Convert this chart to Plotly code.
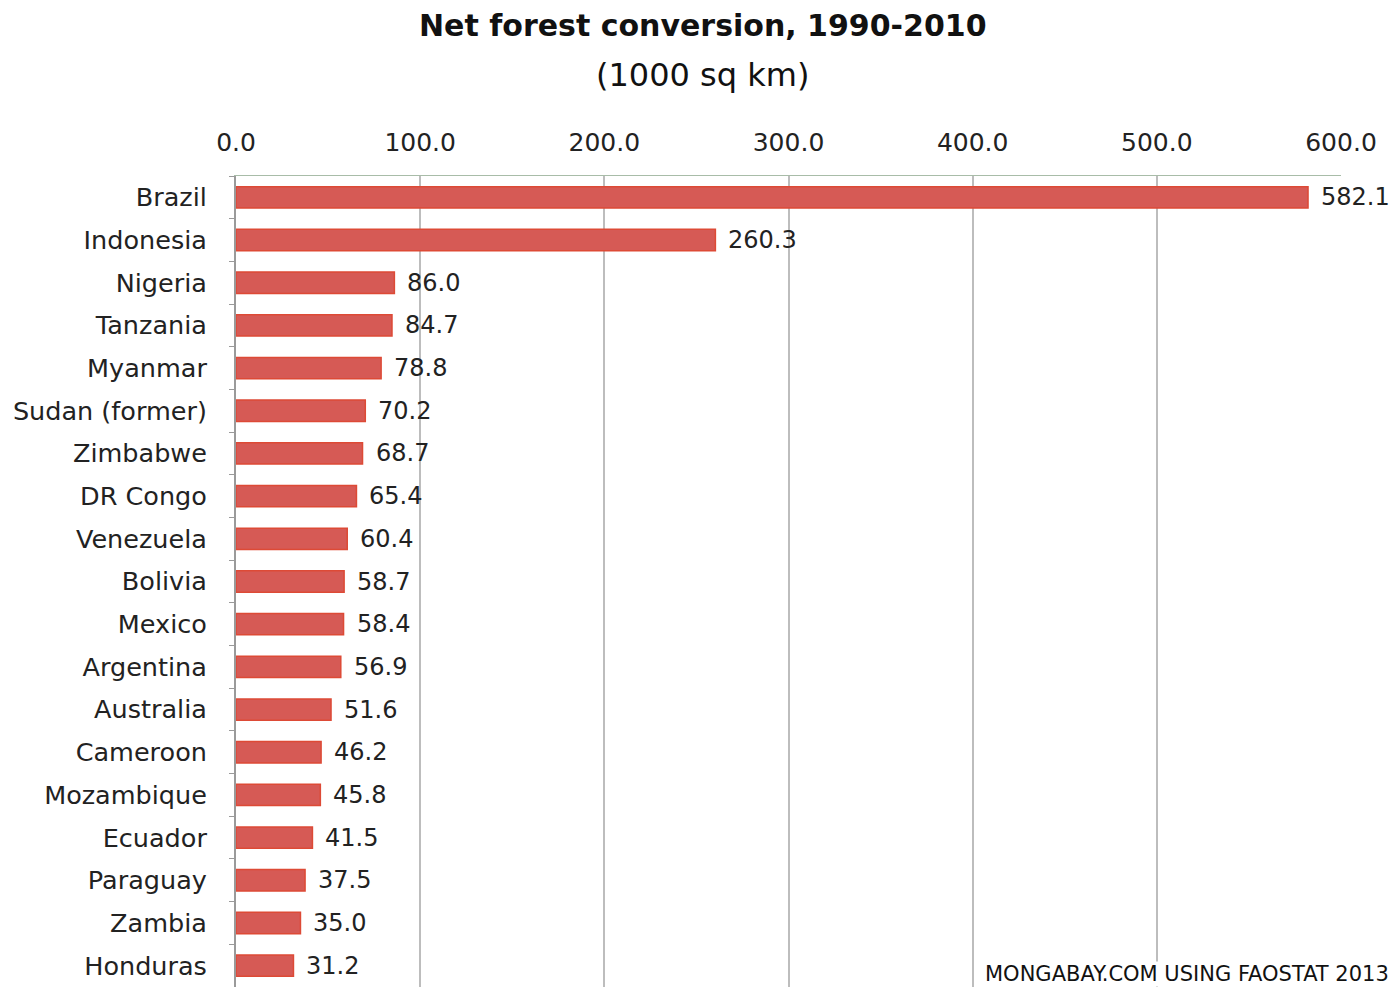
import plotly.graph_objects as go

countries = ["Brazil", "Indonesia", "Nigeria", "Tanzania", "Myanmar", "Sudan (former)",
             "Zimbabwe", "DR Congo", "Venezuela", "Bolivia", "Mexico", "Argentina",
             "Australia", "Cameroon", "Mozambique", "Ecuador", "Paraguay", "Zambia", "Honduras"]
values = [582.1, 260.3, 86.0, 84.7, 78.8, 70.2, 68.7, 65.4, 60.4, 58.7, 58.4, 56.9,
          51.6, 46.2, 45.8, 41.5, 37.5, 35.0, 31.2]
tick_vals = [0, 100, 200, 300, 400, 500, 600]
tick_text = ["0.0", "100.0", "200.0", "300.0", "400.0", "500.0", "600.0"]

FONT = "DejaVu Sans"
TXT = "#222222"

fig = go.Figure(go.Bar(
    x=values, y=countries, orientation="h",
    marker=dict(color="#d65a55", line=dict(color="#dd4a36", width=1.5)),
    hoverinfo="x+y",
))

for c, v in zip(countries, values):
    fig.add_annotation(
        x=v, y=c, xref="x", yref="y", text=f"{v:.1f}", showarrow=False,
        xanchor="left", yanchor="middle", xshift=12, borderpad=0,
        font=dict(family=FONT, size=24, color=TXT),
    )

# title lines
fig.add_annotation(
    text="<b>Net forest conversion, 1990-2010</b>", xref="paper", yref="paper",
    x=0.4226, y=1.186, xanchor="center", yanchor="middle", showarrow=False,
    font=dict(family=FONT, size=30, color="#111111"),
)
fig.add_annotation(
    text="(1000 sq km)", xref="paper", yref="paper",
    x=0.4226, y=1.1245, xanchor="center", yanchor="middle", showarrow=False,
    font=dict(family=FONT, size=32, color="#111111"),
)
# source
fig.add_annotation(
    text="MONGABAY.COM USING FAOSTAT 2013", xref="paper", yref="paper",
    x=1.0443, y=0.0, xanchor="right", yanchor="bottom", showarrow=False,
    bgcolor="white", borderpad=0,
    font=dict(family=FONT, size=21, color="#111111"),
)

fig.update_layout(
    width=1384, height=979,
    margin=dict(l=228, r=51, t=168, b=0),
    plot_bgcolor="white", paper_bgcolor="white",
    bargap=0.5,
    showlegend=False,
    font=dict(family=FONT, color=TXT),
    xaxis=dict(
        side="top", range=[0, 600], tickvals=tick_vals, ticktext=tick_text,
        showgrid=True, gridcolor="#bdbdbd", gridwidth=2,
        showline=True, linecolor="#a8bca8", linewidth=1,
        tickfont=dict(family=FONT, size=25, color=TXT),
        ticks="", ticklabelstandoff=14, zeroline=False, automargin=False,
    ),
    yaxis=dict(
        categoryorder="array", categoryarray=countries[::-1],
        showline=True, linecolor="#9a9a9a", linewidth=2,
        ticks="outside", tickson="boundaries", ticklen=5, tickcolor="#9a9a9a",
        tickfont=dict(family=FONT, size=25.5, color=TXT),
        ticklabelstandoff=22,
        showgrid=False, automargin=False,
    ),
)

fig.write_html("out.html")
